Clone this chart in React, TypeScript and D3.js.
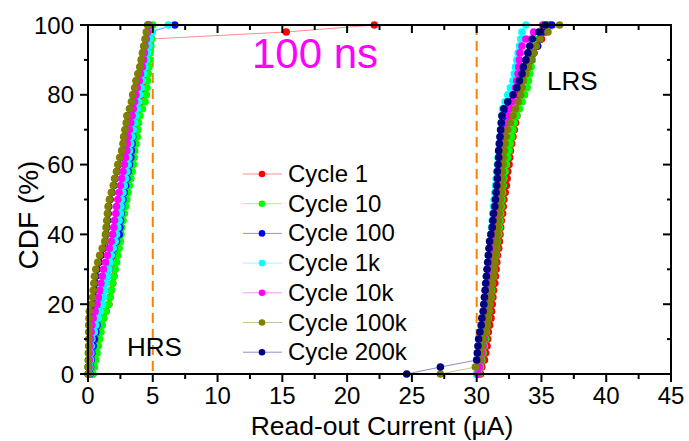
import React from 'react';
import * as d3 from 'd3';

const xTicks = [0, 5, 10, 15, 20, 25, 30, 35, 40, 45];
const yTicks = [0, 20, 40, 60, 80, 100];
const xMinor = [2.5, 7.5, 12.5, 17.5, 22.5, 27.5, 32.5, 37.5, 42.5];
const yMinor = [10, 30, 50, 70, 90];
const seriesNames = ['Cycle 1', 'Cycle 10', 'Cycle 100', 'Cycle 1k', 'Cycle 10k', 'Cycle 100k', 'Cycle 200k'];
const seriesColors = ['#FF0000', '#00FF00', '#0000FF', '#00FFFF', '#FF00FF', '#808000', '#000080'];
const refLines = [5, 30];

// HRS read-out current (uA), sorted; CDF from rank (0..100%)
const hrs1 = [0.35,0.4,0.5,0.6,0.7,0.8,0.9,1.0,1.2,1.4,1.6,1.7,1.8,1.9,2.0,2.05,2.1,2.2,2.3,2.4,2.5,2.55,2.6,2.7,2.8,2.9,3.0,3.1,3.2,3.3,3.4,3.45,3.5,3.6,3.7,3.8,3.85,3.9,4.0,4.1,4.2,4.3,4.4,4.5,4.6,4.65,4.7,4.8,4.9,15.3,22.1];
const hrs10 = [0.4,0.5,0.6,0.7,0.8,0.9,1.0,1.1,1.2,1.4,1.6,1.7,1.8,1.9,2.0,2.1,2.2,2.3,2.4,2.5,2.55,2.6,2.7,2.8,2.9,3.0,3.1,3.2,3.3,3.4,3.5,3.55,3.6,3.7,3.8,3.85,3.9,4.0,4.2,4.4,4.5,4.55,4.6,4.65,4.7,4.75,4.8,4.85,4.9,4.95,5.0];
const hrs100 = [0.15,0.2,0.25,0.3,0.4,0.5,0.6,0.7,0.8,0.9,1.0,1.1,1.2,1.35,1.5,1.6,1.7,1.85,2.0,2.2,2.4,2.45,2.5,2.55,2.6,2.7,2.8,2.9,3.0,3.1,3.2,3.3,3.35,3.4,3.45,3.5,3.55,3.6,3.65,3.75,3.8,3.85,3.9,4.0,4.1,4.2,4.3,4.45,4.6,4.8,6.7];
const hrs1k = [0.1,0.15,0.2,0.22,0.25,0.3,0.5,0.6,0.8,0.95,1.1,1.2,1.3,1.4,1.5,1.6,1.7,1.8,1.95,2.1,2.2,2.3,2.4,2.5,2.55,2.6,2.7,2.8,2.9,3.0,3.1,3.15,3.2,3.3,3.4,3.5,3.6,3.7,3.8,3.9,4.0,4.1,4.2,4.3,4.4,4.5,4.6,4.7,4.8,4.95,6.2];
const hrs10k = [0.05,0.08,0.1,0.12,0.15,0.2,0.25,0.3,0.4,0.55,0.7,0.8,0.9,1.0,1.1,1.2,1.35,1.5,1.65,1.8,1.9,2.0,2.05,2.15,2.2,2.3,2.4,2.5,2.6,2.7,2.8,2.9,3.0,3.05,3.1,3.2,3.3,3.4,3.5,3.6,3.7,3.8,3.95,4.05,4.2,4.3,4.35,4.4,4.5,4.6,4.7];
const hrs100k = [0.0,0.0,0.02,0.03,0.05,0.05,0.06,0.06,0.08,0.1,0.25,0.35,0.4,0.45,0.5,0.6,0.75,0.9,1.1,1.3,1.35,1.4,1.45,1.5,1.55,1.65,1.8,1.95,2.05,2.2,2.3,2.45,2.6,2.7,2.75,2.85,2.95,3.0,3.2,3.35,3.45,3.6,3.7,3.85,4.0,4.1,4.2,4.3,4.4,4.5,4.6];
const hrs200k = [0.02,0.03,0.05,0.06,0.08,0.1,0.12,0.15,0.2,0.3,0.4,0.45,0.5,0.55,0.6,0.7,0.85,1.0,1.2,1.35,1.4,1.45,1.5,1.55,1.6,1.7,1.85,2.0,2.1,2.25,2.35,2.5,2.65,2.75,2.8,2.9,3.0,3.05,3.25,3.4,3.5,3.65,3.75,3.9,4.05,4.15,4.25,4.35,4.45,4.55,4.65];

// LRS read-out current (uA), sorted
const lrs1 = [30.3,30.4,30.6,30.7,30.8,30.85,30.9,31.0,31.1,31.15,31.2,31.25,31.3,31.4,31.45,31.5,31.55,31.6,31.7,31.75,31.8,31.85,31.9,32.0,32.05,32.1,32.2,32.3,32.35,32.4,32.5,32.55,32.6,32.7,32.8,32.9,33.0,33.1,33.2,33.3,33.4,33.5,33.6,33.8,34.0,34.2,34.4,34.7,35.0,35.3,35.6];
const lrs10 = [30.2,30.3,30.4,30.5,30.6,30.7,30.75,30.8,30.9,30.95,31.0,31.1,31.15,31.2,31.3,31.35,31.4,31.5,31.55,31.6,31.7,31.75,31.8,31.85,31.9,31.95,32.0,32.05,32.1,32.2,32.3,32.4,32.5,32.6,32.7,32.8,32.9,33.1,33.3,33.5,33.7,33.9,34.0,34.1,34.2,34.3,34.4,34.6,34.8,35.1,35.5];
const lrs100 = [30.0,30.1,30.15,30.2,30.3,30.4,30.5,30.55,30.6,30.65,30.7,30.75,30.8,30.85,30.9,30.95,31.0,31.05,31.1,31.15,31.2,31.3,31.35,31.4,31.45,31.5,31.55,31.6,31.65,31.7,31.75,31.8,31.85,31.9,31.95,32.0,32.1,32.2,32.4,32.7,33.0,33.3,33.5,33.7,33.9,34.2,34.4,34.7,34.9,35.1,35.8];
const lrs1k = [30.0,30.1,30.2,30.25,30.3,30.35,30.4,30.45,30.5,30.55,30.6,30.65,30.7,30.75,30.8,30.85,30.9,30.95,31.0,31.05,31.1,31.15,31.2,31.25,31.3,31.35,31.4,31.45,31.5,31.55,31.6,31.65,31.7,31.75,31.8,31.85,31.9,31.95,32.0,32.2,32.4,32.6,32.8,32.9,33.0,33.1,33.2,33.3,33.4,33.5,33.8];
const lrs10k = [30.1,30.2,30.3,30.4,30.5,30.6,30.65,30.7,30.8,30.85,30.9,30.95,31.0,31.05,31.1,31.2,31.25,31.3,31.35,31.4,31.45,31.5,31.55,31.6,31.65,31.7,31.75,31.8,31.85,31.9,31.95,32.0,32.05,32.1,32.2,32.3,32.4,32.5,32.6,32.75,32.9,33.0,33.1,33.2,33.25,33.3,33.35,33.5,33.8,34.4,35.1];
const lrs100k = [27.2,29.9,30.2,30.3,30.4,30.5,30.7,30.8,30.85,30.9,31.0,31.05,31.1,31.2,31.3,31.35,31.4,31.45,31.5,31.55,31.6,31.65,31.7,31.75,31.8,31.85,31.9,31.95,32.0,32.0,32.05,32.1,32.15,32.2,32.3,32.4,32.6,32.8,33.0,33.2,33.4,33.5,33.6,33.8,34.0,34.2,34.4,34.6,34.9,35.5,36.4];
const lrs200k = [24.6,27.2,30.0,30.05,30.1,30.15,30.25,30.35,30.4,30.5,30.55,30.6,30.65,30.7,30.75,30.8,30.85,30.9,30.95,31.0,31.1,31.2,31.25,31.3,31.4,31.45,31.5,31.55,31.6,31.6,31.65,31.7,31.7,31.75,31.8,31.85,31.9,31.95,32.1,32.4,32.8,33.1,33.3,33.5,33.6,33.8,33.95,34.1,34.3,34.8,35.3];

const hrsSets = [hrs1, hrs10, hrs100, hrs1k, hrs10k, hrs100k, hrs200k];
const lrsSets = [lrs1, lrs10, lrs100, lrs1k, lrs10k, lrs100k, lrs200k];

const W = 689, H = 441;
const M = { left: 88, right: 671, top: 25, bottom: 374 };
const FONT = '"Liberation Sans", Arial, sans-serif';

export default function App() {
  const x = d3.scaleLinear().domain([0, 45]).range([M.left, M.right]);
  const y = d3.scaleLinear().domain([0, 100]).range([M.bottom, M.top]);

  const toPts = (vals: number[]) => vals.map((v, i) => [v, (i / (vals.length - 1)) * 100] as [number, number]);
  const line = d3.line<[number, number]>().x(d => x(d[0])).y(d => y(d[1]));

  const curves: { pts: [number, number][]; color: string; key: string }[] = [];
  const hrsOrder = [6, 0, 1, 2, 3, 4, 5];
  hrsOrder.forEach(i => curves.push({ pts: toPts(hrsSets[i]), color: seriesColors[i], key: 'h' + i }));
  [0, 1, 2, 3, 4, 5, 6].forEach(i => curves.push({ pts: toPts(lrsSets[i]), color: seriesColors[i], key: 'l' + i }));

  const legendY = (i: number) => 174 + i * 29.7;

  return (
    <svg width={W} height={H} style={{ position: 'absolute', left: 0, top: 0, background: '#fff' }} fontFamily={FONT}>
      {refLines.map(v => (
        <line key={'r' + v} x1={x(v)} x2={x(v)} y1={M.top} y2={M.bottom} stroke="#FF8000" strokeWidth={2} strokeDasharray="10,6" />
      ))}
      {curves.map(c => (
        <g key={c.key}>
          <path d={line(c.pts) || ''} fill="none" stroke={c.color} strokeOpacity={0.45} strokeWidth={1} />
          {c.pts.map((p, j) => (
            <circle key={j} cx={x(p[0])} cy={y(p[1])} r={3.8} fill={c.color} />
          ))}
        </g>
      ))}
      <rect x={M.left} y={M.top} width={M.right - M.left} height={M.bottom - M.top} fill="none" stroke="#000" strokeWidth={2} />
      {xTicks.map(t => (
        <g key={'xt' + t}>
          <line x1={x(t)} x2={x(t)} y1={M.bottom} y2={M.bottom + 8} stroke="#000" strokeWidth={2} />
          <line x1={x(t)} x2={x(t)} y1={M.top} y2={M.top + 8} stroke="#000" strokeWidth={2} />
          <text x={x(t)} y={404} textAnchor="middle" fontSize={24} fill="#000">{t}</text>
        </g>
      ))}
      {xMinor.map(t => (
        <g key={'xm' + t}>
          <line x1={x(t)} x2={x(t)} y1={M.bottom} y2={M.bottom + 5} stroke="#000" strokeWidth={2} />
          <line x1={x(t)} x2={x(t)} y1={M.top} y2={M.top + 5} stroke="#000" strokeWidth={2} />
        </g>
      ))}
      {yTicks.map(t => (
        <g key={'yt' + t}>
          <line x1={M.left - 8} x2={M.left} y1={y(t)} y2={y(t)} stroke="#000" strokeWidth={2} />
          <line x1={M.right - 8} x2={M.right} y1={y(t)} y2={y(t)} stroke="#000" strokeWidth={2} />
          <text x={74} y={y(t) + 8.5} textAnchor="end" fontSize={24} fill="#000">{t}</text>
        </g>
      ))}
      {yMinor.map(t => (
        <g key={'ym' + t}>
          <line x1={M.left - 4} x2={M.left} y1={y(t)} y2={y(t)} stroke="#000" strokeWidth={2} />
          <line x1={M.right - 4} x2={M.right} y1={y(t)} y2={y(t)} stroke="#000" strokeWidth={2} />
        </g>
      ))}
      <text x={382} y={435} textAnchor="middle" fontSize={26.5} fill="#000">Read-out Current (μA)</text>
      <text transform="translate(38,215) rotate(-90)" textAnchor="middle" fontSize={28} fill="#000">CDF (%)</text>
      <text x={315} y={68} textAnchor="middle" fontSize={42} fill="#FF00FF">100 ns</text>
      <text x={127} y={356} fontSize={26} fill="#000">HRS</text>
      <text x={547} y={90} fontSize={26} fill="#000">LRS</text>
      {seriesNames.map((n, i) => (
        <g key={'lg' + i}>
          <line x1={243} x2={282} y1={legendY(i)} y2={legendY(i)} stroke={seriesColors[i]} strokeOpacity={0.45} strokeWidth={1} />
          <circle cx={262} cy={legendY(i)} r={3.3} fill={seriesColors[i]} />
          <text x={288} y={legendY(i) + 8} fontSize={24} fill="#000">{n}</text>
        </g>
      ))}
    </svg>
  );
}
